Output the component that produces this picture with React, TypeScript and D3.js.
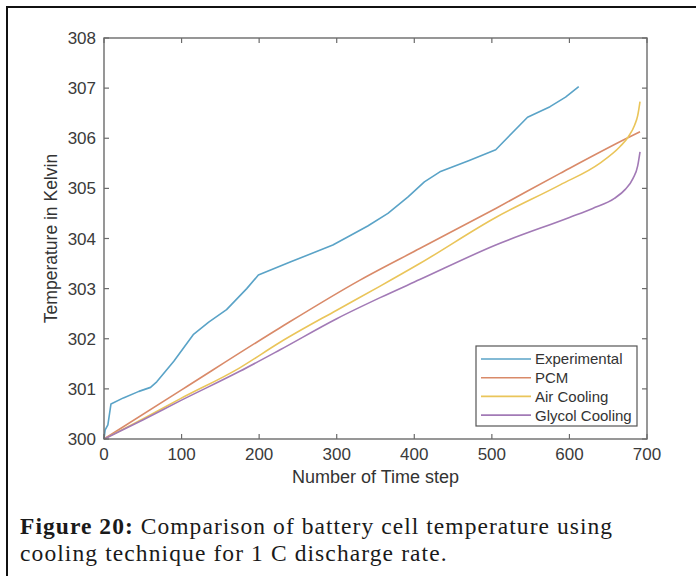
import React from 'react';
import * as d3 from 'd3';

// ---- data ----
const xTicks = [0, 100, 200, 300, 400, 500, 600, 700];
const yTicks = [300, 301, 302, 303, 304, 305, 306, 307, 308];
const seriesNames = ['Experimental', 'PCM', 'Air Cooling', 'Glycol Cooling'];
const seriesColors = ['#5aa3c7', '#d98a69', '#eac55a', '#a27ab6'];

const experimental: [number, number][] = [
  [0, 300], [1.5, 300.18], [5, 300.28], [9, 300.7], [25, 300.82], [45, 300.95], [60, 301.03],
  [68, 301.14], [90, 301.55], [115, 302.08], [135, 302.33], [158, 302.58], [184, 303.0],
  [199, 303.27], [240, 303.53], [295, 303.87], [314, 304.03], [340, 304.25], [366, 304.5],
  [392, 304.83], [413, 305.13], [433, 305.33], [470, 305.55], [505, 305.77], [546, 306.42],
  [575, 306.63], [595, 306.82], [612, 307.03],
];
const pcm: [number, number][] = [
  [0, 300], [100, 300.98], [227, 302.22], [330, 303.17], [407, 303.8], [505, 304.6],
  [588, 305.3], [674, 306.0], [691, 306.13],
];
const airCooling: [number, number][] = [
  [0, 300], [50, 300.4], [98, 300.8], [175, 301.42], [227, 301.93], [300, 302.57],
  [356, 303.05], [407, 303.5], [505, 304.42], [588, 305.07], [639, 305.5], [665, 305.83],
  [676, 306.03], [684, 306.26], [688, 306.45], [691, 306.73],
];
const glycolCooling: [number, number][] = [
  [0, 300], [50, 300.38], [98, 300.76], [175, 301.35], [227, 301.78], [300, 302.4],
  [356, 302.82], [407, 303.18], [505, 303.87], [600, 304.42], [630, 304.6], [658, 304.8],
  [672, 304.98], [682, 305.2], [688, 305.45], [691, 305.73],
];
const seriesData = [experimental, pcm, airCooling, glycolCooling];

const xLabel = 'Number of Time step';
const yLabel = 'Temperature in Kelvin';
const captionBold = 'Figure 20:';
const captionLine1 = ' Comparison of battery cell temperature using';
const captionLine2 = 'cooling technique for 1 C discharge rate.';

// ---- layout ----
const W = 696;
const H = 576;
const plot = { left: 104, right: 647, top: 38, bottom: 439 };

export default function App() {
  const x = d3.scaleLinear().domain([0, 700]).range([plot.left, plot.right]);
  const y = d3.scaleLinear().domain([300, 308]).range([plot.bottom, plot.top]);

  const linear = d3.line<[number, number]>().x(d => x(d[0])).y(d => y(d[1]));
  const smooth = d3
    .line<[number, number]>()
    .x(d => x(d[0]))
    .y(d => y(d[1]))
    .curve(d3.curveMonotoneX);

  const axisColor = '#6b6b6b';
  const tickLen = 5;
  const font = '"Liberation Sans", Arial, sans-serif';
  const serif = '"Liberation Serif", "Times New Roman", serif';

  const legend = { x: 476, y: 346, w: 161, h: 80 };

  return (
    <svg
      width={W}
      height={H}
      style={{ position: 'absolute', left: 0, top: 0, background: '#fff' }}
    >
      <rect x={0} y={0} width={W} height={H} fill="#fff" />
      {/* frame */}
      <line x1={7} y1={7} x2={7} y2={H} stroke="#111" strokeWidth={2} />
      <line x1={6} y1={7} x2={W} y2={7} stroke="#111" strokeWidth={2} />

      {/* series */}
      {seriesData.map((d, i) => (
        <path
          key={seriesNames[i]}
          d={(i === 0 ? linear(d) : smooth(d)) || ''}
          fill="none"
          stroke={seriesColors[i]}
          strokeWidth={1.6}
          strokeLinejoin="round"
        />
      ))}

      {/* axes box */}
      <rect
        x={plot.left}
        y={plot.top}
        width={plot.right - plot.left}
        height={plot.bottom - plot.top}
        fill="none"
        stroke={axisColor}
        strokeWidth={1.4}
      />
      {xTicks.map(t => (
        <g key={'x' + t}>
          <line x1={x(t)} x2={x(t)} y1={plot.bottom} y2={plot.bottom - tickLen} stroke={axisColor} strokeWidth={1.2} />
          <line x1={x(t)} x2={x(t)} y1={plot.top} y2={plot.top + tickLen} stroke={axisColor} strokeWidth={1.2} />
          <text
            x={x(t)}
            y={plot.bottom + 21}
            textAnchor="middle"
            fontFamily={font}
            fontSize={17}
            fill="#3a3a3a"
          >
            {t}
          </text>
        </g>
      ))}
      {yTicks.map(t => (
        <g key={'y' + t}>
          <line x1={plot.left} x2={plot.left + tickLen} y1={y(t)} y2={y(t)} stroke={axisColor} strokeWidth={1.2} />
          <line x1={plot.right} x2={plot.right - tickLen} y1={y(t)} y2={y(t)} stroke={axisColor} strokeWidth={1.2} />
          <text
            x={plot.left - 8}
            y={y(t)}
            dy="0.36em"
            textAnchor="end"
            fontFamily={font}
            fontSize={17}
            fill="#3a3a3a"
          >
            {t}
          </text>
        </g>
      ))}

      {/* axis labels */}
      <text
        x={(plot.left + plot.right) / 2}
        y={483}
        textAnchor="middle"
        fontFamily={font}
        fontSize={18}
        fill="#333"
      >
        {xLabel}
      </text>
      <text
        transform={`translate(57, ${(plot.top + plot.bottom) / 2}) rotate(-90)`}
        textAnchor="middle"
        fontFamily={font}
        fontSize={17.5}
        fill="#333"
      >
        {yLabel}
      </text>

      {/* legend */}
      <rect
        x={legend.x}
        y={legend.y}
        width={legend.w}
        height={legend.h}
        fill="#fff"
        stroke="#555"
        strokeWidth={1.2}
      />
      {seriesNames.map((n, i) => {
        const ly = legend.y + 13 + i * 18.7;
        return (
          <g key={'lg' + n}>
            <line x1={legend.x + 5} x2={legend.x + 55} y1={ly} y2={ly} stroke={seriesColors[i]} strokeWidth={1.6} />
            <text x={legend.x + 59} y={ly} dy="0.36em" fontFamily={font} fontSize={15} fill="#333">
              {n}
            </text>
          </g>
        );
      })}

      {/* caption */}
      <text x={20} y={534} fontFamily={serif} fontSize={23.5} fill="#1a1a1a" letterSpacing={1.05}>
        <tspan fontWeight="bold">{captionBold}</tspan>
        <tspan>{captionLine1}</tspan>
      </text>
      <text x={20} y={561} fontFamily={serif} fontSize={23.5} fill="#1a1a1a" letterSpacing={1.1}>
        {captionLine2}
      </text>
    </svg>
  );
}
